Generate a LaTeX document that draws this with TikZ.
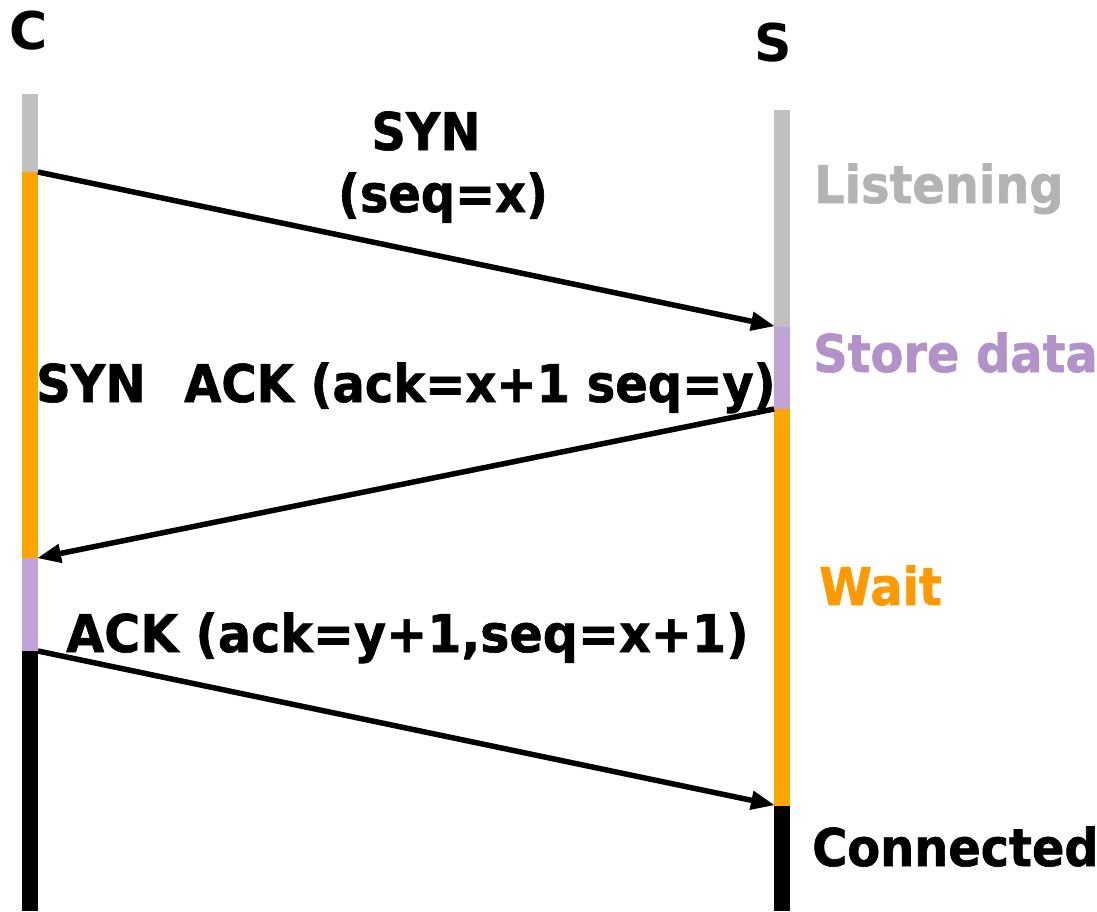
\documentclass[tikz,border=0pt]{standalone}
\usepackage{fontspec}
\usetikzlibrary{arrows.meta}
\newfontfamily\lblfont{DejaVu Sans Bold}[FakeStretch=0.92,FakeBold=1.2]
\newfontfamily\msgfont{DejaVu Sans Bold}[FakeStretch=0.945,FakeBold=1.2]
\newfontfamily\msgfontnarrow{DejaVu Sans Bold}[FakeStretch=0.923,FakeBold=1.2]
\newfontfamily\endfont{DejaVu Sans Bold}
\definecolor{stgray}{HTML}{C0C0C0}
\definecolor{stgraytxt}{HTML}{B3B3B3}
\definecolor{stpurple}{HTML}{BEA5D5}
\definecolor{stpurpletxt}{HTML}{B392CA}
\definecolor{storange}{HTML}{FFA500}
\definecolor{storangetxt}{HTML}{FF9900}
\tikzset{
  lbl/.style={inner sep=0pt, anchor=base west, font=\lblfont\fontsize{52}{62}\selectfont},
  msglbl/.style={inner sep=0pt, anchor=base west, font=\msgfont\fontsize{52}{62}\selectfont},
  endlbl/.style={inner sep=0pt, anchor=base, font=\endfont\fontsize{52}{62}\selectfont},
  msg/.style={line width=5.5pt, -{Triangle[length=24pt,width=18pt]}, shorten >=-1pt},
}
\begin{document}
\begin{tikzpicture}[x=1pt,y=-1pt]
\useasboundingbox (0,0) rectangle (1097,911);
% client timeline
\fill[stgray]   (22,94)  rectangle (38,172);
\fill[storange] (22,172) rectangle (38,558);
\fill[stpurple] (22,558) rectangle (38,651);
\fill[black]    (22,651) rectangle (38,911);
% server timeline
\fill[stgray]   (774,110) rectangle (790,327);
\fill[stpurple] (774,327) rectangle (790,409);
\fill[storange] (774,409) rectangle (790,806);
\fill[black]    (774,806) rectangle (790,911);
% end points on the timelines
\coordinate (c1) at (38,172);
\coordinate (s1) at (774,326);
\coordinate (s2) at (774,409);
\coordinate (c2) at (38,558);
\coordinate (c3) at (38,651);
\coordinate (s3) at (774,805);
% labels
\node[endlbl] (cl) at (29,49) {C};
\node[endlbl] (sv) at (773,61) {S};
\node[lbl, anchor=base] (m1a) at (426,150) {SYN};
\node[lbl, anchor=base] (m1b) at (443,212) {(seq=x)};
\node[msglbl, font=\msgfontnarrow\fontsize{52}{62}\selectfont] (m2) at (36,402)
  {SYN\hspace{0.42em}\ ACK (ack=x+1 seq=y)};
\node[msglbl] (m3) at (66,652) {ACK (ack=y+1,seq=x+1)};
\node[lbl, text=stgraytxt]   (st1) at (814,203) {Listening};
\node[lbl, text=stpurpletxt] (st2) at (813,372) {Store data};
\node[lbl, text=storangetxt] (st3) at (819,605) {Wait};
\node[lbl] (st4) at (812,866) {Connected};
% messages
\draw[msg] (c1) -- (s1);
\draw[msg] (s2) -- (c2);
\draw[msg] (c3) -- (s3);
\end{tikzpicture}
\end{document}
